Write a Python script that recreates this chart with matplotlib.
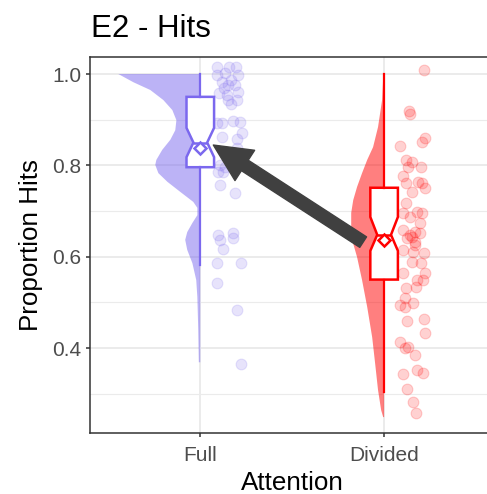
import matplotlib.pyplot as plt
from matplotlib.patches import FancyArrowPatch
import numpy as np

plt.rcParams["font.family"] = ["Liberation Sans", "DejaVu Sans"]

CONDITIONS = ["Full", "Divided"]
COLORS = ["#7B68EE", "#FF0000"]

# proportion of hits per participant, with the horizontal jitter used for the dots
FULL_HITS = [1.015, 1.015, 1.015, 0.998, 1.002, 0.998, 0.983, 0.987, 0.969, 0.958,
             0.954, 0.961, 0.943, 0.943, 0.934, 0.895, 0.893, 0.897, 0.893, 0.871,
             0.858, 0.862, 0.838, 0.801, 0.786, 0.786, 0.757, 0.740, 0.648, 0.652,
             0.637, 0.642, 0.617, 0.587, 0.587, 0.543, 0.484, 0.366, 0.976, 0.812,
             0.797, 0.976]
FULL_JITTER = [0.092, 0.158, 0.196, 0.092, 0.136, 0.207, 0.120, 0.168, 0.130, 0.103,
               0.147, 0.207, 0.201, 0.152, 0.168, 0.217, 0.120, 0.179, 0.092, 0.228,
               0.201, 0.120, 0.201, 0.109, 0.098, 0.125, 0.109, 0.190, 0.098, 0.179,
               0.109, 0.179, 0.125, 0.092, 0.223, 0.092, 0.201, 0.223, 0.152, 0.179,
               0.136, 0.190]
DIVIDED_HITS = [1.009, 0.919, 0.913, 0.860, 0.851, 0.843, 0.812, 0.808, 0.797, 0.797,
                0.777, 0.762, 0.764, 0.762, 0.751, 0.742, 0.718, 0.696, 0.698, 0.696,
                0.687, 0.674, 0.659, 0.655, 0.642, 0.644, 0.652, 0.633, 0.648, 0.626,
                0.615, 0.611, 0.609, 0.589, 0.587, 0.565, 0.565, 0.550, 0.550, 0.534,
                0.532, 0.510, 0.495, 0.491, 0.499, 0.460, 0.464, 0.432, 0.414, 0.401,
                0.403, 0.386, 0.344, 0.351, 0.346, 0.311, 0.281, 0.259]
DIVIDED_JITTER = [0.217, 0.136, 0.141, 0.223, 0.207, 0.087, 0.120, 0.152, 0.130, 0.201,
                  0.103, 0.120, 0.185, 0.207, 0.223, 0.152, 0.120, 0.103, 0.179, 0.207,
                  0.141, 0.196, 0.103, 0.168, 0.125, 0.152, 0.196, 0.168, 0.141, 0.168,
                  0.103, 0.158, 0.217, 0.152, 0.201, 0.103, 0.223, 0.179, 0.212, 0.174,
                  0.120, 0.114, 0.087, 0.114, 0.158, 0.125, 0.217, 0.223, 0.087, 0.114,
                  0.130, 0.168, 0.103, 0.179, 0.212, 0.125, 0.158, 0.174]

# half-violin outlines: hit level and density half-width (x units)
FULL_DENS_Y = [1.000, 0.982, 0.965, 0.943, 0.921, 0.899, 0.877, 0.856, 0.834, 0.812,
               0.801, 0.783, 0.764, 0.742, 0.720, 0.707, 0.691, 0.674, 0.654, 0.637,
               0.615, 0.586, 0.549, 0.512, 0.439, 0.369]
FULL_DENS_W = [0.446, 0.364, 0.272, 0.201, 0.152, 0.130, 0.136, 0.163, 0.207, 0.239,
               0.245, 0.228, 0.179, 0.109, 0.038, 0.016, 0.016, 0.043, 0.071, 0.082,
               0.071, 0.043, 0.022, 0.016, 0.011, 0.008]
DIVIDED_DENS_Y = [1.000, 0.943, 0.884, 0.840, 0.812, 0.783, 0.753, 0.724, 0.696, 0.665,
                  0.637, 0.599, 0.549, 0.490, 0.424, 0.367, 0.308, 0.264, 0.249]
DIVIDED_DENS_W = [0.004, 0.011, 0.033, 0.060, 0.092, 0.120, 0.147, 0.168, 0.179, 0.179,
                  0.174, 0.147, 0.120, 0.092, 0.065, 0.049, 0.033, 0.016, 0.005]

# box summaries
Q1 = [0.796, 0.550]
MEDIAN = [0.850, 0.648]
Q3 = [0.950, 0.751]
WHISKER_LO = [0.583, 0.303]
WHISKER_HI = [1.0, 1.0]
NOTCH_LO = [0.818, 0.613]
NOTCH_HI = [0.882, 0.687]
MEAN = [0.838, 0.636]

hits = [FULL_HITS, DIVIDED_HITS]
jitter = [FULL_JITTER, DIVIDED_JITTER]
dens_y = [FULL_DENS_Y, DIVIDED_DENS_Y]
dens_w = [FULL_DENS_W, DIVIDED_DENS_W]
positions = np.arange(1, len(CONDITIONS) + 1)

fig = plt.figure(figsize=(4.87, 4.94), dpi=100)
ax = fig.add_axes([0.1848, 0.1235, 0.8304, 0.7611])

# grid
for y in [0.4, 0.6, 0.8, 1.0]:
    ax.axhline(y, color="#EBEBEB", lw=1.4, zorder=0)
for y in [0.3, 0.5, 0.7, 0.9]:
    ax.axhline(y, color="#EBEBEB", lw=0.8, zorder=0)
for x in positions:
    ax.axvline(x, color="#EBEBEB", lw=1.4, zorder=0)

# half violins on the left of each condition
for i, pos in enumerate(positions):
    ax.fill_betweenx(dens_y[i], pos - np.array(dens_w[i]), pos,
                     facecolor=COLORS[i], edgecolor="none", alpha=0.5, zorder=1)

# jittered dots
for i, pos in enumerate(positions):
    ax.scatter(pos + np.array(jitter[i]), hits[i], s=60, color=COLORS[i],
               alpha=0.18, linewidths=0.8, zorder=2)

# notched boxes
for i, pos in enumerate(positions):
    stats = [dict(q1=Q1[i], med=MEDIAN[i], q3=Q3[i], whislo=WHISKER_LO[i],
                  whishi=WHISKER_HI[i], cilo=NOTCH_LO[i], cihi=NOTCH_HI[i],
                  mean=MEAN[i], fliers=[])]
    ax.bxp(stats, positions=[pos], widths=0.15, shownotches=True, showcaps=False,
           showfliers=False, showmeans=True, patch_artist=True, manage_ticks=False,
           boxprops=dict(facecolor="white", edgecolor=COLORS[i], linewidth=1.8),
           whiskerprops=dict(color=COLORS[i], linewidth=1.6),
           medianprops=dict(color=COLORS[i], linewidth=1.8),
           meanprops=dict(marker="D", markerfacecolor="white",
                          markeredgecolor=COLORS[i], markersize=6.5,
                          markeredgewidth=1.8),
           zorder=3)

# arrow from divided towards full
arrow = FancyArrowPatch(posA=(1.886, 0.632), posB=(1.071, 0.8445),
                        arrowstyle="simple,head_length=27,head_width=26,tail_width=9",
                        color="#404040", shrinkA=0, shrinkB=0, zorder=5)
ax.add_patch(arrow)

ax.set_xlim(0.4, 2.6)
ax.set_ylim(0.2142, 1.0372)
ax.set_xticks(positions)
ax.set_xticklabels(CONDITIONS)
ax.set_yticks([0.4, 0.6, 0.8, 1.0])
ax.set_yticklabels(["0.4", "0.6", "0.8", "1.0"])
ax.tick_params(labelsize=15, labelcolor="#4D4D4D", color="#333333",
               length=3.2, width=1.1)
ax.tick_params(axis="x", pad=6.5)
ax.tick_params(axis="y", pad=3)

for spine in ax.spines.values():
    spine.set_color("#333333")
    spine.set_linewidth(1.1)

ax.set_xlabel("Attention", fontsize=18.7, labelpad=4)
ax.set_ylabel("Proportion Hits", fontsize=18.7, labelpad=7)
fig.text(0.187, 0.925, "E2 - Hits", fontsize=22.5, va="baseline", ha="left")

fig.savefig("out.png", dpi=100)
plt.close(fig)
